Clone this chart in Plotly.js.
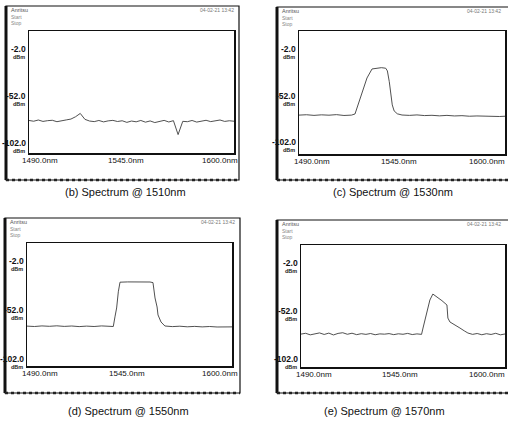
<!DOCTYPE html>
<html><head><meta charset="utf-8">
<script src="https://cdn.plot.ly/plotly-3.0.1.min.js"></script>
<style>html,body{margin:0;padding:0;background:#fff}#chart{width:508px;height:425px}</style>
</head><body><div id="chart"></div>
<script>
// ---- data ----
const wlB = [1490,1492.5,1495,1497.5,1500,1502.5,1505,1507.5,1510,1512.5,1515,1517.5,1520,1522.5,1525,1527.5,1530,1532.5,1535,1537.5,1540,1542.5,1545,1547.5,1550,1552.5,1555,1557.5,1560,1562.5,1565,1567.5,1570,1572.5,1575,1577.5,1580,1582.5,1585,1587.5,1590,1592.5,1595,1597.5,1600];
const dbmB = [-77.0,-77.8,-76.5,-78.0,-77.2,-76.8,-78.3,-77.0,-76.4,-75.5,-73.0,-69.5,-75.8,-77.6,-78.2,-77.0,-78.5,-77.4,-76.9,-78.1,-77.3,-79.0,-77.6,-78.4,-77.0,-78.8,-77.5,-79.2,-77.8,-76.9,-78.6,-77.2,-92.0,-77.9,-78.3,-77.0,-78.7,-77.4,-76.8,-78.2,-77.6,-76.5,-78.0,-77.3,-77.8];

const wlC = [1490,1494,1498,1502,1506,1510,1514,1518,1519.9,1521.5,1523.6,1526.3,1529.0,1531.5,1534.0,1536.3,1537.2,1538.2,1539.0,1539.8,1540.8,1542.5,1545,1549,1553,1557,1561,1565,1569,1573,1577,1581,1585,1589,1593,1597,1600];
const dbmC = [-72.0,-71.6,-72.3,-71.7,-72.1,-71.5,-72.4,-72.0,-70.8,-61.1,-48.2,-32.1,-22.4,-21.3,-21.0,-21.6,-24.5,-36.0,-50.0,-61.0,-67.5,-70.6,-71.9,-72.3,-71.8,-72.5,-72.2,-72.8,-72.3,-72.9,-72.6,-73.2,-72.9,-73.3,-73.0,-73.5,-73.2];

const wlD = [1490,1494,1498,1502,1506,1510,1514,1518,1522,1526,1530,1534,1536.3,1537.2,1538.1,1539.0,1539.9,1544,1548,1552,1556,1557.6,1558.1,1558.7,1559.8,1560.3,1561.9,1564,1568,1572,1576,1580,1584,1588,1592,1596,1600];
const dbmD = [-67.4,-67.8,-67.2,-67.6,-67.1,-67.7,-67.3,-67.9,-67.4,-67.8,-67.2,-67.6,-67.8,-58.0,-48.9,-32.4,-22.6,-22.3,-22.2,-22.3,-22.4,-23.0,-30.6,-38.7,-47.9,-56.0,-63.2,-67.3,-67.9,-67.5,-68.1,-67.7,-68.2,-67.8,-68.3,-67.9,-68.2];

const wlE = [1490,1492.5,1495,1497.5,1500,1502.5,1505,1507.5,1510,1512.5,1515,1517.5,1520,1522.5,1525,1527.5,1530,1532.5,1535,1537.5,1540,1542.5,1545,1547.5,1550,1552.5,1555,1555.8,1558.0,1559.5,1561.1,1563.5,1566.0,1568.7,1569.2,1570.3,1573.0,1575.7,1578.0,1580.0,1582.5,1585,1587.5,1590,1592.5,1595,1597.5,1600];
const dbmE = [-75.0,-74.2,-75.8,-74.5,-73.8,-75.4,-74.0,-75.9,-74.3,-73.6,-75.2,-74.1,-75.6,-74.6,-75.3,-74.4,-75.7,-74.8,-75.1,-74.5,-75.6,-74.7,-75.2,-74.3,-75.5,-74.8,-75.3,-68.7,-53.0,-39.5,-33.3,-36.5,-40.2,-44.7,-58.3,-62.4,-65.3,-68.7,-71.6,-73.9,-75.3,-74.4,-75.7,-74.6,-75.4,-74.2,-75.8,-74.9];

const captions = ['(b) Spectrum @ 1510nm','(c) Spectrum @ 1530nm','(d) Spectrum @ 1550nm','(e) Spectrum @ 1570nm'];
const yTickVals = [-2, -52, -102];
const yTickText = ['-2.0','-52.0','-102.0'];
const xTickVals = [1490, 1545, 1600];
const xTickText = ['1490.0nm','1545.0nm','1600.0nm'];
const headerLeft = ['Anritsu','Start','Stop'];
const headerRight = '04-02-21 13:42';

// ---- layout geometry (pixels) ----
const W = 508, H = 425;
const px = x => x / W, py = y => 1 - y / H;
const panels = [
  {wl: wlB, db: dbmB, box: [29,234,31,153], yr: [-111.6,18.2], frame: [6,239,6,180], cap: [125,192], xs: [-9,-6,6]},
  {wl: wlC, db: dbmC, box: [299,505,31,154], yr: [-113.8,18.4], frame: [277,510,7,180], cap: [393,192], xs: [-7,-3,2]},
  {wl: wlD, db: dbmD, box: [27,232,243,366], yr: [-108.1,17.4], frame: [5,240,218,393], cap: [128,411], xs: [-7,-3,8]},
  {wl: wlE, db: dbmE, box: [301,505,245,367], yr: [-109.3,17.8], frame: [277,510,220,393], cap: [384,411], xs: [-7,-3,2]}
];

const FONT = 'Liberation Sans, Arial, sans-serif';
const data = [], annotations = [], shapes = [];
const layout = {
  width: W, height: H, margin: {l:0,r:0,t:0,b:0},
  paper_bgcolor: '#fff', plot_bgcolor: '#fff', showlegend: false,
  font: {family: FONT, color: '#111'}
};

panels.forEach((p, i) => {
  const k = i === 0 ? '' : String(i + 1);
  const xa = 'x' + k, ya = 'y' + k;
  data.push({type: 'scatter', mode: 'lines', x: p.wl, y: p.db, xaxis: xa, yaxis: ya,
    line: {color: '#3c3c3c', width: 0.9}, hoverinfo: 'skip'});
  const axBase = {showgrid: false, zeroline: false, showticklabels: false, ticks: '',
    showline: true, mirror: true, linecolor: '#111', linewidth: 1.5, fixedrange: true};
  layout['xaxis' + k] = Object.assign({}, axBase, {domain: [px(p.box[0]), px(p.box[1])],
    range: [1490, 1600], anchor: ya});
  layout['yaxis' + k] = Object.assign({}, axBase, {domain: [py(p.box[3]), py(p.box[2])],
    range: p.yr, anchor: xa});

  // y tick labels with dBm unit
  yTickVals.forEach((v, j) => {
    annotations.push({xref: xa + ' domain', yref: ya, x: 0, y: v, xanchor: 'right', yanchor: 'middle',
      xshift: -1, yshift: 1, showarrow: false, text: yTickText[j],
      font: {size: 8.5, family: FONT, color: '#111', weight: 'bold'}});
    annotations.push({xref: xa + ' domain', yref: ya, x: 0, y: v, xanchor: 'right', yanchor: 'middle',
      xshift: -2, yshift: -7, showarrow: false, text: 'dBm',
      font: {size: 5.5, family: FONT, color: '#222', weight: 'bold'}});
  });
  // x tick labels
  const anchors = ['left', 'center', 'right'];
  xTickVals.forEach((v, j) => {
    annotations.push({xref: xa, yref: ya + ' domain', x: v, y: 0, xanchor: anchors[j], yanchor: 'top',
      xshift: p.xs[j], yshift: -1, showarrow: false, text: xTickText[j],
      font: {size: 8, family: FONT, color: '#111'}});
  });
  // caption
  annotations.push({xref: 'paper', yref: 'paper', x: px(p.cap[0]), y: py(p.cap[1]), xanchor: 'center',
    yanchor: 'middle', showarrow: false, text: captions[i], font: {size: 11, family: FONT, color: '#111'}});

  // instrument header text (tiny, grey)
  const f = p.frame;
  annotations.push({xref: 'paper', yref: 'paper', x: px(f[0] + 3), y: py(f[2] + 4), xanchor: 'left', yanchor: 'middle',
    showarrow: false, text: headerLeft[0], font: {size: 5.5, family: FONT, color: '#555'}});
  annotations.push({xref: 'paper', yref: 'paper', x: px(f[0] + 3), y: py(f[2] + 11), xanchor: 'left', yanchor: 'middle',
    showarrow: false, text: headerLeft[1], font: {size: 5, family: FONT, color: '#888'}});
  annotations.push({xref: 'paper', yref: 'paper', x: px(f[0] + 3), y: py(f[2] + 17), xanchor: 'left', yanchor: 'middle',
    showarrow: false, text: headerLeft[2], font: {size: 5, family: FONT, color: '#888'}});
  annotations.push({xref: 'paper', yref: 'paper', x: px(Math.min(f[1], 506) - 3), y: py(f[2] + 4), xanchor: 'right', yanchor: 'middle',
    showarrow: false, text: headerRight, font: {size: 5, family: FONT, color: '#777'}});

  // outer frame of the instrument screenshot
  shapes.push({type: 'rect', xref: 'paper', yref: 'paper', x0: px(f[0]), x1: px(f[1]), y0: py(f[3]), y1: py(f[2]),
    line: {color: '#111', width: 1.2}});
  shapes.push({type: 'line', xref: 'paper', yref: 'paper', x0: px(f[0]), x1: px(f[0]), y0: py(f[3]), y1: py(f[2]),
    line: {color: '#111', width: 3}});
  shapes.push({type: 'line', xref: 'paper', yref: 'paper', x0: px(f[0]), x1: px(f[1]), y0: py(f[3]), y1: py(f[3]),
    line: {color: '#222', width: 2.5, dash: 'dot'}});
});

layout.annotations = annotations;
layout.shapes = shapes;
Plotly.newPlot('chart', data, layout, {staticPlot: true, displayModeBar: false});
</script>
</body></html>
